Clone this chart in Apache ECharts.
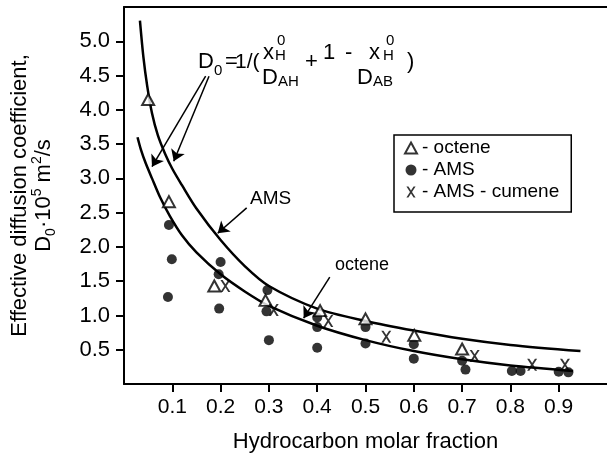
<!DOCTYPE html>
<html>
<head>
<meta charset="utf-8">
<script src="https://cdn.jsdelivr.net/npm/echarts@6/dist/echarts.min.js"></script>
<style>
html,body{margin:0;padding:0;background:#fff;}
#chart{width:607px;height:458px;}
</style>
</head>
<body>
<div id="chart"></div>
<script>
// ---- data ----
const xTickValues = [0.1, 0.2, 0.3, 0.4, 0.5, 0.6, 0.7, 0.8, 0.9];
const yTickValues = [0.5, 1.0, 1.5, 2.0, 2.5, 3.0, 3.5, 4.0, 4.5, 5.0];

const octeneX = [0.050, 0.093, 0.187, 0.293, 0.406, 0.500, 0.601, 0.700];
const octeneY = [4.15, 2.66, 1.43, 1.22, 1.07, 0.95, 0.71, 0.51];

const amsX = [0.093, 0.099, 0.091, 0.200, 0.196, 0.197, 0.297, 0.295, 0.300, 0.400, 0.400, 0.400, 0.500, 0.500, 0.600, 0.600, 0.700, 0.707, 0.803, 0.821, 0.900, 0.920];
const amsY = [2.32, 1.82, 1.27, 1.78, 1.60, 1.10, 1.37, 1.06, 0.64, 0.97, 0.83, 0.53, 0.83, 0.59, 0.58, 0.37, 0.34, 0.21, 0.19, 0.19, 0.18, 0.17];

const cumeneX = [0.210, 0.310, 0.423, 0.543, 0.726, 0.845, 0.913];
const cumeneY = [1.43, 1.08, 0.92, 0.69, 0.41, 0.28, 0.28];

const upperCurveX = [0.033, 0.040, 0.048, 0.058, 0.070, 0.085, 0.100, 0.120, 0.150, 0.200, 0.250, 0.300, 0.400, 0.500, 0.600, 0.700, 0.800, 0.945];
const upperCurveY = [5.30, 4.78, 4.35, 3.95, 3.63, 3.36, 3.14, 2.90, 2.56, 2.10, 1.72, 1.43, 1.10, 0.92, 0.78, 0.66, 0.57, 0.48];

const lowerCurveX = [0.028, 0.035, 0.045, 0.058, 0.075, 0.095, 0.120, 0.150, 0.200, 0.250, 0.300, 0.400, 0.500, 0.600, 0.700, 0.800, 0.930];
const lowerCurveY = [3.60, 3.42, 3.22, 3.00, 2.72, 2.45, 2.17, 1.92, 1.60, 1.35, 1.14, 0.85, 0.64, 0.48, 0.36, 0.27, 0.19];

// annotation arrows (data coordinates): [fromX, fromY, toX, toY]
const arrowFormulaLower = [0.169, 4.49, 0.058, 3.17];
const arrowFormulaUpper = [0.176, 4.49, 0.103, 3.25];
const arrowAMS = [0.254, 2.57, 0.194, 2.20];
const arrowOctene = [0.426, 1.56, 0.372, 0.96];

// ---- build ----
const zip = (xs, ys) => xs.map((x, i) => [x, ys[i]]);
const FONT = 'Liberation Sans, Arial, sans-serif';
const X_PATH = 'path://M0,0 L2.2,0 L5,4.3 L7.8,0 L10,0 L6.1,5.9 L10,12 L7.8,12 L5,7.5 L2.2,12 L0,12 L3.9,5.9 Z';

const arrowLine = a => [
  {coord: [a[0], a[1]], symbol: 'none'},
  {coord: [a[2], a[3]], symbol: 'arrow'}
];

const chart = echarts.init(document.getElementById('chart'), null, {renderer: 'canvas'});

const txt = (s, x, y, size) => ({
  type: 'text', x: x, y: y,
  style: {text: s, fontSize: size, fontFamily: FONT, fill: '#000', textVerticalAlign: 'middle', verticalAlign: 'middle'}
});

chart.setOption({
  animation: false,
  backgroundColor: '#fff',
  grid: {left: 123, right: 0, top: 7, bottom: 74, containLabel: false},
  xAxis: [{
    type: 'value', min: 0, max: 1, interval: 0.1,
    name: 'Hydrocarbon molar fraction', nameLocation: 'middle', nameGap: 47,
    nameTextStyle: {fontSize: 22, fontFamily: FONT, color: '#000'},
    axisLine: {show: true, onZero: false, lineStyle: {color: '#000', width: 2}},
    axisTick: {show: true, inside: false, length: 8, lineStyle: {color: '#000', width: 2}, customValues: xTickValues},
    axisLabel: {fontSize: 21, fontFamily: FONT, color: '#000', margin: 13, customValues: xTickValues,
      formatter: v => v.toFixed(1)},
    splitLine: {show: false}
  }, {
    type: 'value', position: 'top', min: 0, max: 1,
    axisLine: {show: true, onZero: false, lineStyle: {color: '#000', width: 2}},
    axisTick: {show: false}, axisLabel: {show: false}, splitLine: {show: false}
  }],
  yAxis: {
    type: 'value', min: 0, max: 5.5, interval: 0.5,
    name: 'Effective diffusion coefficient,\n{n|D}{sub|0}{n|·10}{sup|5}{n| m}{sup|2}{n|/s}',
    nameLocation: 'middle', nameGap: 68, nameRotate: 90,
    nameTextStyle: {fontSize: 22, fontFamily: FONT, color: '#000', lineHeight: 24,
      rich: {
        n: {fontSize: 22, fontFamily: FONT, color: '#000', lineHeight: 24},
        sub: {fontSize: 14, fontFamily: FONT, color: '#000', lineHeight: 24, verticalAlign: 'bottom', padding: [0, 0, -2, 0]},
        sup: {fontSize: 14, fontFamily: FONT, color: '#000', lineHeight: 24, verticalAlign: 'top', padding: [-2, 0, 0, 0]}
      }},
    axisLine: {show: true, onZero: false, lineStyle: {color: '#000', width: 2}},
    axisTick: {show: true, inside: false, length: 8, lineStyle: {color: '#000', width: 2}, customValues: yTickValues},
    axisLabel: {fontSize: 22, fontFamily: FONT, color: '#000', margin: 14, customValues: yTickValues,
      formatter: v => v.toFixed(1)},
    splitLine: {show: false}
  },
  legend: {
    orient: 'vertical', left: 394, top: 135,
    padding: [2, 12, 9, 10], itemGap: 0, itemWidth: 12, itemHeight: 11,
    borderColor: '#000', borderWidth: 1.5, backgroundColor: '#fff',
    textStyle: {fontSize: 19, fontFamily: FONT, color: '#000', lineHeight: 22},
    formatter: name => '- ' + name,
    data: ['octene', 'AMS', 'AMS - cumene'],
    selectedMode: false
  },
  series: [
    {
      name: 'upperCurve', type: 'line', data: zip(upperCurveX, upperCurveY), smooth: 0.3,
      showSymbol: false, symbol: 'none', silent: true,
      lineStyle: {color: '#000', width: 2.5}, z: 2,
      markLine: {
        silent: true, symbol: ['none', 'arrow'], symbolSize: 11, label: {show: false},
        lineStyle: {color: '#000', width: 1.5, type: 'solid'},
        emphasis: {disabled: true},
        data: [arrowLine(arrowFormulaLower), arrowLine(arrowFormulaUpper), arrowLine(arrowAMS), arrowLine(arrowOctene)]
      }
    },
    {
      name: 'lowerCurve', type: 'line', data: zip(lowerCurveX, lowerCurveY), smooth: 0.3,
      showSymbol: false, symbol: 'none', silent: true,
      lineStyle: {color: '#000', width: 2.5}, z: 2
    },
    {
      name: 'AMS', type: 'scatter', data: zip(amsX, amsY), symbol: 'circle', symbolSize: 10,
      itemStyle: {color: '#000'}, z: 3
    },
    {
      name: 'octene', type: 'scatter', data: zip(octeneX, octeneY), symbol: 'triangle', symbolSize: [12, 11],
      itemStyle: {color: '#fff', borderColor: '#000', borderWidth: 2}, z: 4
    },
    {
      name: 'AMS - cumene', type: 'scatter', data: zip(cumeneX, cumeneY), symbol: X_PATH, symbolSize: [10, 12],
      itemStyle: {color: '#000'}, z: 4
    }
  ],
  graphic: [
    txt('D', 198, 62, 22),
    txt('0', 214, 71, 15),
    txt('=', 225, 62, 22),
    txt('1/(', 235, 62, 21),
    txt('x', 263, 53, 22),
    txt('0', 277, 41, 15),
    txt('H', 275, 56, 15),
    txt('D', 262, 78, 22),
    txt('AH', 278, 82, 15),
    txt('+', 305, 62, 22),
    txt('1', 323, 53, 22),
    txt('-', 345, 53, 22),
    txt('x', 369, 53, 22),
    txt('0', 386, 41, 15),
    txt('H', 383, 56, 15),
    txt('D', 357, 78, 22),
    txt('AB', 373, 82, 15),
    txt(')', 407, 62, 22),
    txt('AMS', 250, 199, 19),
    txt('octene', 335, 265, 18)
  ]
});
</script>
</body>
</html>
